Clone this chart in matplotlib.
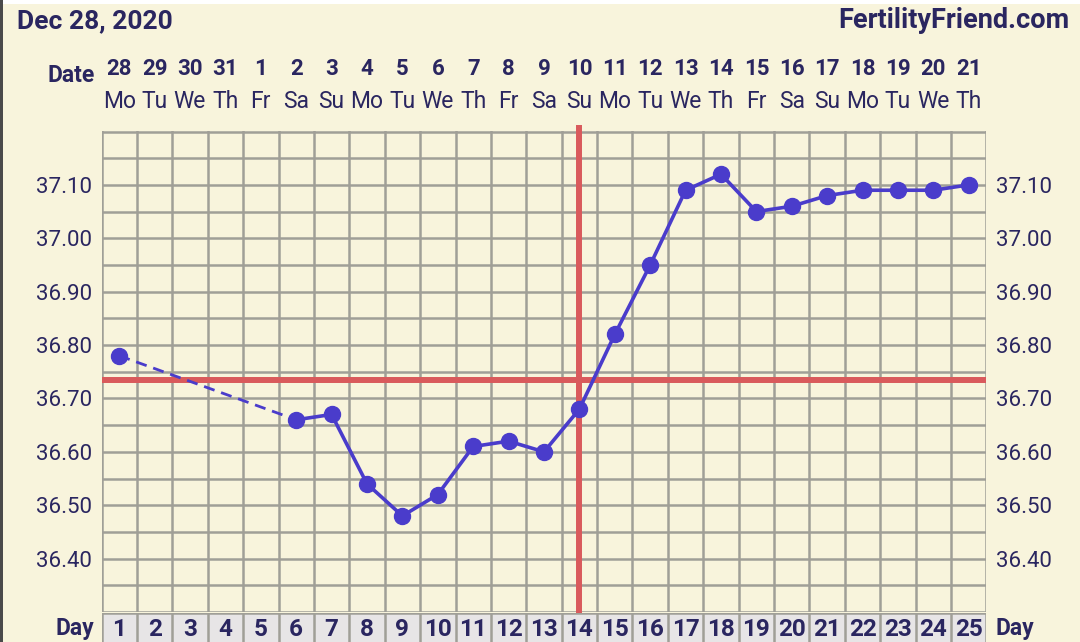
import matplotlib
matplotlib.use("Agg")
import matplotlib.pyplot as plt
import matplotlib.transforms as mtransforms
from matplotlib.patches import Rectangle
import numpy as np

plt.rcParams['font.family'] = ['Roboto', 'DejaVu Sans']

# ---- data ----
cycle_days = list(range(1, 26))
dates = ['28', '29', '30', '31', '1', '2', '3', '4', '5', '6', '7', '8', '9',
         '10', '11', '12', '13', '14', '15', '16', '17', '18', '19', '20', '21']
weekdays = ['Mo', 'Tu', 'We', 'Th', 'Fr', 'Sa', 'Su', 'Mo', 'Tu', 'We', 'Th', 'Fr', 'Sa',
            'Su', 'Mo', 'Tu', 'We', 'Th', 'Fr', 'Sa', 'Su', 'Mo', 'Tu', 'We', 'Th']
temps = [36.78, None, None, None, None, 36.66, 36.67, 36.54, 36.48, 36.52, 36.61,
         36.62, 36.60, 36.68, 36.82, 36.95, 37.09, 37.12, 37.05, 37.06, 37.08,
         37.09, 37.09, 37.09, 37.10]
coverline = 36.735
ovulation_day = 14
y_labels = [36.40, 36.50, 36.60, 36.70, 36.80, 36.90, 37.00, 37.10]
title_date = 'Dec 28, 2020'
site = 'FertilityFriend.com'

# ---- style ----
BG = '#f8f4dc'
TXT = '#2a2660'
GRID = '#a09f97'
LINE = '#4a3ccb'
RED = '#d95a5c'
DAYBG = '#e7e5e6'

W, H = 1080, 642
fig = plt.figure(figsize=(W / 100, H / 100), dpi=100, facecolor=BG)

L, R = 101.5, 986.5
T, B = 131.5, 612.0
ax = fig.add_axes([L / W, 1 - B / H, (R - L) / W, (B - T) / H])
ax.set_facecolor(BG)
ax.set_xlim(0.5, 25.5)
ax.set_ylim(36.30, 37.20)

# grid
ax.set_xticks(np.arange(0.5, 25.6, 1.0))
ax.set_xticklabels([])
ax.set_yticks(y_labels)
ax.set_yticklabels([f'{v:.2f}' for v in y_labels])
ax.set_yticks(np.arange(36.30, 37.201, 0.05), minor=True)
ax.grid(True, which='both', color=GRID, linewidth=1.8)
ax.tick_params(axis='both', which='both', length=0)
ax.tick_params(axis='y', labelright=True, labelsize=16, colors=TXT, pad=7)
for sp in ax.spines.values():
    sp.set_visible(False)
ax.set_axisbelow(True)

# coverline and ovulation line
ax.axhline(coverline, color=RED, linewidth=4.3, zorder=2)
ax.axvline(ovulation_day, color=RED, linewidth=4.3, zorder=2, ymax=1.007, clip_on=False)

# temperatures
xs = [d for d, t in zip(cycle_days, temps) if t is not None]
ys = [t for t in temps if t is not None]
# dashed gap segment
ax.plot(xs[:2], ys[:2], color=LINE, linewidth=2.0, linestyle=(0, (4, 2.5)), zorder=3)
ax.plot(xs[1:], ys[1:], color=LINE, linewidth=2.6, zorder=3)
ax.plot(xs, ys, linestyle='none', marker='o', markersize=11.5, color=LINE, zorder=4)

# top labels
trans = mtransforms.blended_transform_factory(ax.transData, fig.transFigure)
for d, ds, wd in zip(cycle_days, dates, weekdays):
    ax.text(d, 1 - 69 / H, ds, transform=trans, ha='center', va='center',
            fontsize=16, fontweight='bold', color=TXT)
    ax.text(d, 1 - 102 / H, wd, transform=trans, ha='center', va='center',
            fontsize=16.5, color=TXT)
fig.text(71 / W, 1 - 75 / H, 'Date', ha='center', va='center', fontsize=16.5,
         fontweight='bold', color=TXT)
fig.text(17 / W, 1 - 21 / H, title_date, ha='left', va='center', fontsize=19,
         fontweight='bold', color=TXT)
fig.text(1069 / W, 1 - 21 / H, site, ha='right', va='center', fontsize=19.5,
         fontweight='bold', color=TXT)

# day row
dax = fig.add_axes([L / W, 0, (R - L) / W, (H - B - 1) / H])
dax.set_facecolor(DAYBG)
dax.set_xlim(0.5, 25.5)
dax.set_ylim(0, 1)
dax.set_xticks([])
dax.set_yticks([])
for sp in dax.spines.values():
    sp.set_visible(False)
for xv in np.arange(0.5, 25.6, 1.0):
    dax.axvline(xv, color=GRID, linewidth=1.8)
dax.axhline(1.0, color=GRID, linewidth=1.8)
for d in cycle_days:
    dax.text(d, 0.42, str(d), ha='center', va='center', fontsize=17.5,
             fontweight='bold', color=TXT)
fig.text(75 / W, 1 - 629 / H, 'Day', ha='center', va='center', fontsize=16.5,
         fontweight='bold', color=TXT)
fig.text(1015 / W, 1 - 629 / H, 'Day', ha='center', va='center', fontsize=16.5,
         fontweight='bold', color=TXT)

# screenshot frame edges
fig.patches.append(Rectangle((0, 1 - 4 / H), 1, 4 / H, transform=fig.transFigure,
                             facecolor='white', edgecolor='none'))
fig.patches.append(Rectangle((0, 0), 3 / W, 1, transform=fig.transFigure,
                             facecolor='#4a4a4a', edgecolor='none'))

fig.savefig('out.png', dpi=100, facecolor=BG)
